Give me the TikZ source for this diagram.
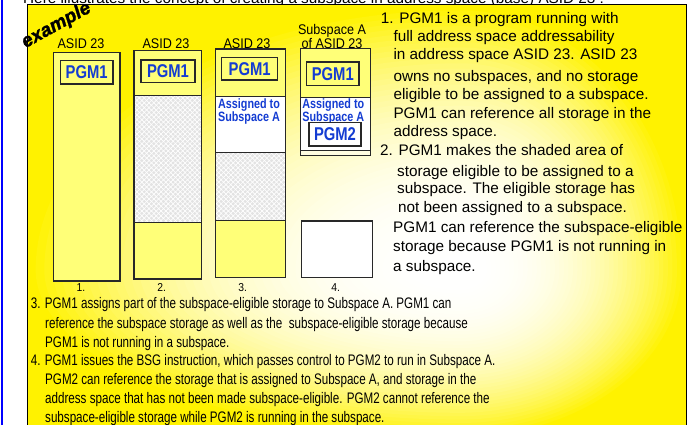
\documentclass[tikz,border=0pt]{standalone}
\usepackage{fontspec}
\setmainfont{Liberation Sans}
\newfontfamily\plainfam{Liberation Sans}
\newfontfamily\narrowfam[FakeStretch=0.76]{Liberation Sans}
\newfontfamily\labelfam[FakeStretch=0.9]{Liberation Sans}
\newfontfamily\boxfam[FakeStretch=0.8]{Liberation Sans}
\newfontfamily\stampfam[BoldItalicFeatures={FakeBold=1.6}]{Liberation Sans}
\usetikzlibrary{patterns.meta}

\definecolor{colyellow}{RGB}{255,255,120}
\definecolor{pgmblue}{RGB}{20,60,210}
\definecolor{edgegray}{RGB}{40,40,40}
\definecolor{sidebar}{RGB}{0,0,255}

\newcommand\txtR{\plainfam\fontsize{15.3}{18}\selectfont}
\newcommand\txtB{\narrowfam\fontsize{15.3}{18}\selectfont}
\newcommand\txtL{\labelfam\fontsize{14}{16}\selectfont}
\newcommand\txtP{\boxfam\bfseries\fontsize{18.5}{20}\selectfont}
\newcommand\txtS{\boxfam\bfseries\fontsize{13.5}{13.5}\selectfont}
\newcommand\txtN{\labelfam\fontsize{11.5}{12}\selectfont}

\begin{document}
\begin{tikzpicture}[x=1pt,y=-1pt,
  rtext/.style={anchor=base west, inner sep=0pt, font=\txtR},
  btext/.style={anchor=base west, inner sep=0pt, font=\txtB},
  collabel/.style={anchor=base, inner sep=0pt, font=\txtL},
  colnum/.style={anchor=base, inner sep=0pt, font=\txtN},
  colbox/.style={draw=edgegray, line width=1.3pt},
  divider/.style={draw=edgegray, line width=1.2pt},
  pgmbox/.style={draw=edgegray, line width=1.2pt, fill=colyellow, text=pgmblue,
    font=\txtP, inner sep=0pt},
  assigned/.style={anchor=base, inner sep=0pt, text=pgmblue, font=\txtS},
  eligible/.style={fill=black!11,
    postaction={pattern={Lines[angle=45,distance=3.4pt,line width=0.7pt]}, pattern color=white},
    postaction={pattern={Lines[angle=-45,distance=3.4pt,line width=0.7pt]}, pattern color=white}},
]
\useasboundingbox (0,0) rectangle (688,425);
\fill[white] (0,0) rectangle (688,425);

% blue rule on the far left
\draw[sidebar, line width=2pt] (1.5,-5) -- (1.5,430);

% caption above the panel (the panel hides its lower part)
\node[rtext] (caption) at (23,4)
  {Here illustrates the concept of creating a subspace in address space (base) ASID 23 :};

% yellow panel, fading to white around an off-centre point
\fill[yellow] (27,5) rectangle (686,440);
\begin{scope}
  \clip (27,5) rectangle (686,440);
  \foreach \i in {0,...,49}{
    \pgfmathsetmacro\gt{1-\i/50}
    \pgfmathsetmacro\gp{round(1000*pow(\gt,2.5))/10}
    \pgfmathsetmacro\gR{226*\gt}
    \pgfmathsetmacro\gL{433*\gt}
    \pgfmathsetmacro\gT{265*\gt}
    \pgfmathsetmacro\gB{170*\gt}
    \fill[yellow!\gp!white] (460+\gR,270)
      arc[start angle=0,end angle=90,x radius=\gR pt,y radius=\gT pt]
      arc[start angle=90,end angle=180,x radius=\gL pt,y radius=\gT pt]
      arc[start angle=180,end angle=270,x radius=\gL pt,y radius=\gB pt]
      arc[start angle=270,end angle=360,x radius=\gR pt,y radius=\gB pt] -- cycle;
  }
\end{scope}
\draw[black, line width=1pt] (27,5) rectangle (686,440);

% "example" stamp
\node[inner sep=0pt, rotate=29, font=\stampfam\bfseries\itshape\fontsize{19}{19}\selectfont]
  (stamp) at (56.5,25.5) {example};

% ---- column 1: whole address space
\fill[colyellow] (53.3,52.3) rectangle (120,281);
\draw[colbox] (53.3,52.3) rectangle (120,281);
\node[collabel] (lab1) at (81,49) {ASID 23};
\node[pgmbox, minimum width=52.7pt, minimum height=23.7pt] (pgm1a) at (86.7,72.2) {PGM1};
\node[colnum] (num1) at (81,291) {1.};

% ---- column 2: eligible storage
\fill[colyellow] (134,50.7) rectangle (201.7,279);
\path[eligible] (134,95.7) rectangle (201.7,222.3);
\draw[divider] (134,95.7) -- (201.7,95.7);
\draw[divider] (134,222.3) -- (201.7,222.3);
\draw[colbox] (134,50.7) rectangle (201.7,279);
\node[collabel] (lab2) at (166,49) {ASID 23};
\node[pgmbox, minimum width=54pt, minimum height=22.7pt] (pgm1b) at (168,71.3) {PGM1};
\node[colnum] (num2) at (161.7,291) {2.};

% ---- column 3: part assigned to Subspace A
\fill[colyellow] (215.7,49) rectangle (285.7,277.7);
\fill[white] (215.7,96.7) rectangle (285.7,152.3);
\path[eligible] (215.7,152.3) rectangle (285.7,220.3);
\draw[divider] (215.7,96.7) -- (285.7,96.7);
\draw[divider] (215.7,152.3) -- (285.7,152.3);
\draw[divider] (215.7,220.3) -- (285.7,220.3);
\draw[colbox] (215.7,49) rectangle (285.7,277.7);
\node[collabel] (lab3) at (247,48.3) {ASID 23};
\node[pgmbox, minimum width=56pt, minimum height=22.7pt] (pgm1c) at (249.7,68.7) {PGM1};
\node[assigned] (asg3a) at (249,108.5) {Assigned to};
\node[assigned] (asg3b) at (249,121.8) {Subspace A};
\node[colnum] (num3) at (242.7,291) {3.};

% ---- column 4: running in Subspace A
\fill[colyellow] (300.7,48.3) rectangle (370.7,155.7);
\fill[white] (300.7,97.3) rectangle (370.7,150.7);
\fill[yellow!12!white] (300.7,150.7) rectangle (370.7,155.7);
\draw[divider] (300.7,97.3) -- (370.7,97.3);
\draw[divider] (300.7,150.7) -- (370.7,150.7);
\draw[colbox] (300.7,48.3) rectangle (370.7,155.7);
\fill[white] (301.7,221) rectangle (372.3,277.3);
\draw[colbox] (301.7,221) rectangle (372.3,277.3);
\node[collabel] (lab4a) at (332,35) {Subspace A};
\node[collabel] (lab4b) at (332,48.3) {of ASID 23};
\node[pgmbox, minimum width=52.3pt, minimum height=23.5pt] (pgm1d) at (332.8,73.7) {PGM1};
\node[assigned] (asg4a) at (333.3,108.5) {Assigned to};
\node[assigned] (asg4b) at (333.3,121.5) {Subspace A};
\node[pgmbox, fill=white, minimum width=52pt, minimum height=23.5pt] (pgm2) at (335,134.2) {PGM2};
\node[colnum] (num4) at (335.7,291) {4.};

% ---- notes 1 and 2, right of the columns
\node[rtext] (r1)  at (380.7,23.8)  {1. PGM1 is a program running with};
\node[rtext] (r2)  at (393.3,41.5)  {full address space addressability};
\node[rtext] (r3)  at (393.3,59.5)  {in address space ASID 23. ASID 23};
\node[rtext] (r4)  at (393.3,81.5)  {owns no subspaces, and no storage};
\node[rtext] (r5)  at (393.3,99.5)  {eligible to be assigned to a subspace.};
\node[rtext] (r6)  at (393.3,118.5) {PGM1 can reference all storage in the};
\node[rtext] (r7)  at (393.3,137)   {address space.};
\node[rtext] (r8)  at (380,155.5)   {2. PGM1 makes the shaded area of};
\node[rtext] (r9)  at (397,176)     {storage eligible to be assigned to a};
\node[rtext] (r10) at (397,193.5)   {subspace. The eligible storage has};
\node[rtext] (r11) at (398,212)     {not been assigned to a subspace.};
\node[rtext] (r12) at (393,232.5)   {PGM1 can reference the subspace-eligible};
\node[rtext] (r13) at (393,251.5)   {storage because PGM1 is not running in};
\node[rtext] (r14) at (393,271.5)   {a subspace.};

% ---- notes 3 and 4, below the columns
\node[btext] (b1) at (30.7,308)  {3. PGM1 assigns part of the subspace-eligible storage to Subspace A. PGM1 can};
\node[btext] (b2) at (45,328)    {reference the subspace storage as well as the~ subspace-eligible storage because};
\node[btext] (b3) at (45,347)    {PGM1 is not running in a subspace.};
\node[btext] (b4) at (30.7,365.5){4. PGM1 issues the BSG instruction, which passes control to PGM2 to run in Subspace A.};
\node[btext] (b5) at (45,384.5)  {PGM2 can reference the storage that is assigned to Subspace A, and storage in the};
\node[btext] (b6) at (45,403.5)  {address space that has not been made subspace-eligible. PGM2 cannot reference the};
\node[btext] (b7) at (45,422)    {subspace-eligible storage while PGM2 is running in the subspace.};
\end{tikzpicture}
\end{document}
